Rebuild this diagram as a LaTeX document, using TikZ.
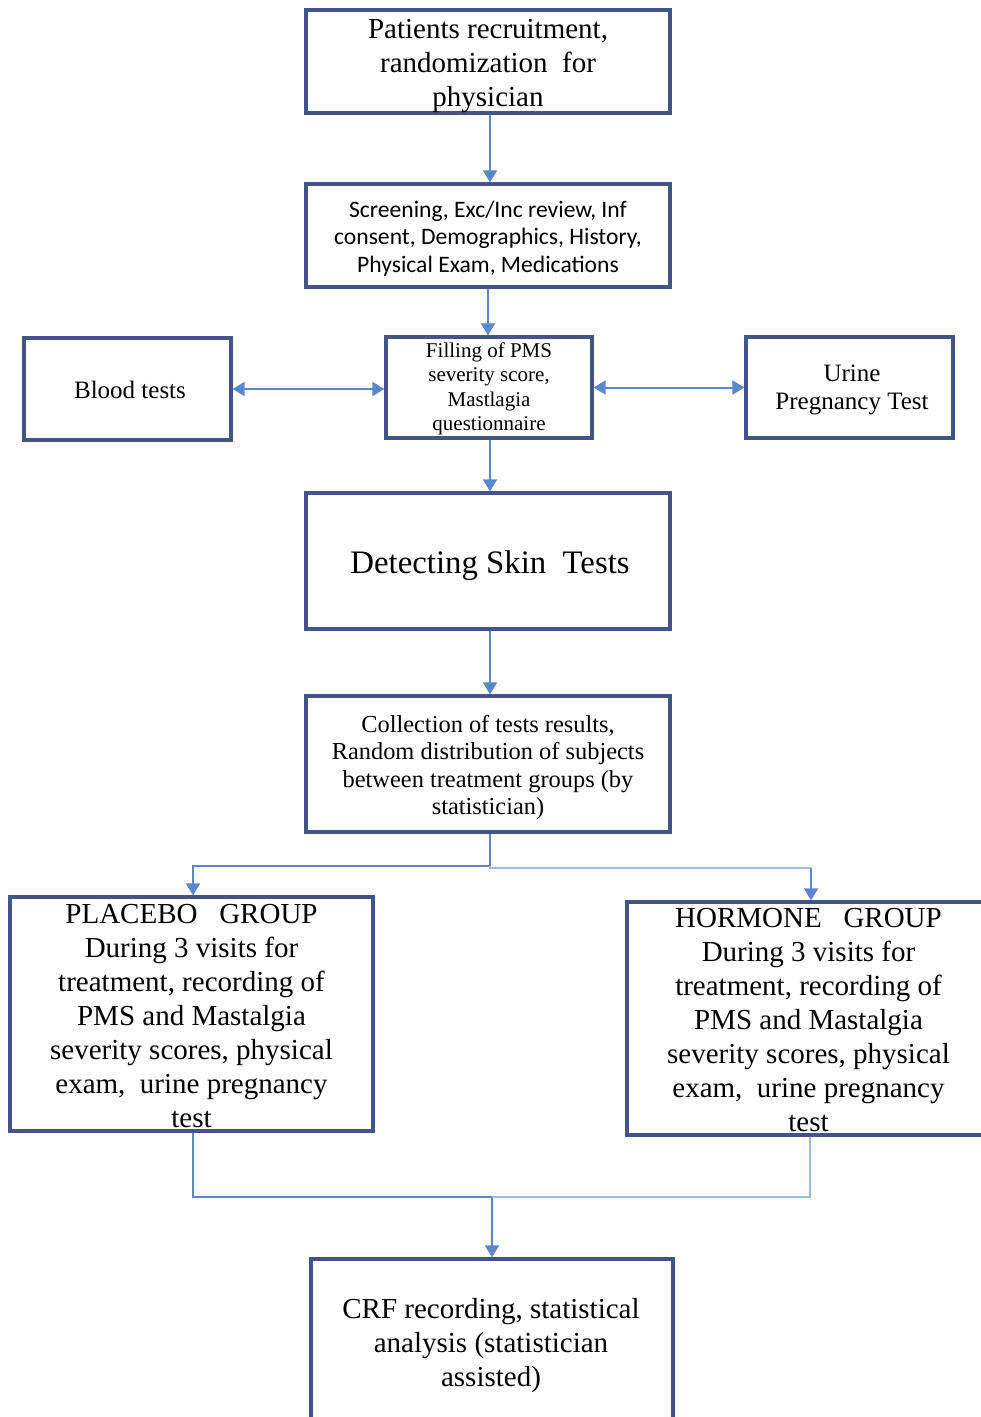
\documentclass[tikz,border=0pt]{standalone}
\usepackage{fontspec}
\setmainfont{Liberation Serif}
\newfontfamily\calibri{Carlito}
\usetikzlibrary{arrows.meta}
\definecolor{boxc}{RGB}{66,84,138}
\definecolor{arrc}{RGB}{91,135,205}
\definecolor{arrl}{RGB}{160,186,230}
\tikzset{
  box/.style={draw=boxc, line width=1.6pt, fill=white, inner sep=0pt},
  btext/.style={align=center, inner sep=0pt},
  big/.style={font=\fontsize{14.5}{17}\selectfont},
  conn/.style={draw=arrc, line width=1pt},
  connl/.style={draw=arrl, line width=1.3pt},
  tip/.style={-{Triangle[width=7pt,length=6pt]}},
  tips/.style={{Triangle[width=7pt,length=6pt]}-{Triangle[width=7pt,length=6pt]}},
}
\begin{document}
\begin{tikzpicture}[x=0.5pt,y=-0.5pt]
\useasboundingbox (0,0) rectangle (980,1417);
\fill[white] (0,0) rectangle (980,1417);

% boxes
\node[box, minimum width=182pt, minimum height=51.5pt] (rec) at (488,61.5) {};
\node[box, minimum width=182pt, minimum height=51.5pt] (scr) at (488,235.5) {};
\node[box, minimum width=103pt, minimum height=50.5pt] (fill) at (489,387.5) {};
\node[box, minimum width=103.5pt, minimum height=51pt] (blood) at (127.5,389) {};
\node[box, minimum width=103.5pt, minimum height=50.5pt] (urine) at (849.5,387.5) {};
\node[box, minimum width=182pt, minimum height=68pt] (skin) at (488,561) {};
\node[box, minimum width=182pt, minimum height=68pt] (coll) at (488,764) {};
\node[box, minimum width=181.5pt, minimum height=117pt] (plac) at (191.5,1014) {};
\node[box, minimum width=181.5pt, minimum height=116.5pt] (horm) at (808.5,1018.5) {};
\node[box, minimum width=181pt, minimum height=82pt] (crf) at (492,1341) {};

% texts
\node[btext, big] (recT) at (488,66.5)
  {Patients recruitment,\\randomization\ \ for\\physician};
\node[btext, font=\calibri\fontsize{11.8}{13.75}\selectfont] (scrT) at (488,238.5)
  {Screening, Exc/Inc review, Inf\\consent, Demographics, History,\\Physical Exam, Medications};
\node[btext, font=\fontsize{10.5}{12.2}\selectfont] (fillT) at (489,389)
  {Filling of PMS\\severity score,\\Mastlagia\\questionnaire};
\node[btext, font=\fontsize{12.5}{14}\selectfont] (bloodT) at (130,390)
  {Blood tests};
\node[btext, font=\fontsize{12.5}{14}\selectfont] (urineT) at (852,389.5)
  {Urine\\Pregnancy Test};
\node[btext, font=\fontsize{16.4}{19}\selectfont] (skinT) at (490,566)
  {Detecting Skin\ \ Tests};
\node[btext, font=\fontsize{12.2}{13.8}\selectfont] (collT) at (488,767.5)
  {Collection of tests results,\\Random distribution of subjects\\between treatment groups (by\\statistician)};
\node[btext, big] (placT) at (191.5,1016)
  {PLACEBO\ \ \ GROUP\\During\ 3\ visits for\\treatment,\ recording\ of\\PMS\ and Mastalgia\\severity scores, physical\\exam,\ \ urine pregnancy\\test};
\node[btext, big] (hormT) at (808.5,1020.5)
  {HORMONE\ \ \ GROUP\\During\ 3\ visits for\\treatment,\ recording\ of\\PMS\ and Mastalgia\\severity scores, physical\\exam,\ \ urine pregnancy\\test};
\node[btext, big] (crfT) at (491,1346)
  {CRF\ recording,\ statistical\\analysis (statistician\\assisted)};

\coordinate (split) at (490,866);
\coordinate (pl) at (193,866);
\coordinate (hr) at (811,868);
\coordinate (merge) at (492,1197);
\coordinate (pb) at (193,1197);
\coordinate (hb) at (810,1197);

\draw[conn,tip] (rec.south -| 490,0) -- (scr.north -| 490,0);
\draw[conn,tip] (scr.south) -- (fill.north -| scr.south);
\draw[conn,tips] (blood.east) -- (blood.east -| fill.west);
\draw[conn,tips] (urine.west -| fill.east) -- (urine.west);
\draw[conn,tip] (fill.south -| 490,0) -- (skin.north -| 490,0);
\draw[conn,tip] (skin.south -| 490,0) -- (coll.north -| 490,0);
\draw[conn] (coll.south -| 490,0) -- (split);
\draw[conn,tip] (split) -- (pl) -- (plac.north -| pl);
\draw[connl] (split) -- (490,868) -- (hr);
\draw[conn,tip] (hr) -- (horm.north -| hr);
\draw[conn] (plac.south -| pb) -- (pb) -- (merge);
\draw[connl] (horm.south -| hb) -- (hb) -- (merge);
\draw[conn,tip] (merge) -- (crf.north -| merge);
\end{tikzpicture}
\end{document}
